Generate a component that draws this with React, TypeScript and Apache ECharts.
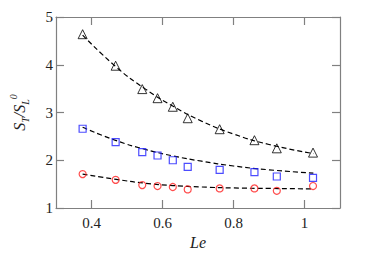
import React, { useEffect, useRef } from "react";
import * as echarts from "echarts";

const leTri = [0.375, 0.468, 0.543, 0.586, 0.629, 0.671, 0.761, 0.859, 0.922, 1.024];
const triVals = [4.64, 3.98, 3.49, 3.3, 3.12, 2.88, 2.65, 2.42, 2.25, 2.16];
const sqVals = [2.66, 2.38, 2.17, 2.1, 2.0, 1.86, 1.8, 1.75, 1.66, 1.63];
const circVals = [1.71, 1.59, 1.48, 1.46, 1.44, 1.39, 1.41, 1.41, 1.36, 1.46];

const fitX = [0.375, 0.47, 0.55, 0.63, 0.71, 0.8, 0.9, 1.025];
const fitTri = [4.62, 3.95, 3.5, 3.13, 2.82, 2.55, 2.33, 2.14];
const fitSq = [2.69, 2.41, 2.23, 2.09, 1.98, 1.88, 1.8, 1.73];
const fitCirc = [1.71, 1.6, 1.52, 1.47, 1.44, 1.42, 1.41, 1.4];

const xTicks = [0.4, 0.6, 0.8, 1];

const zip = (xs: number[], ys: number[]) => xs.map((x, i) => [x, ys[i]]);

export default function App() {
  const ref = useRef<HTMLDivElement>(null);
  useEffect(() => {
    if (!ref.current) return;
    const chart = echarts.init(ref.current, undefined, { renderer: "svg" });
    const font = "Liberation Serif";
    const axisLine = { show: true, lineStyle: { color: "#808080", width: 1.2 } };
    const tickStyle = { lineStyle: { color: "#808080", width: 1.2 } };
    const dash = { type: [5, 3] as any, color: "#000", width: 1.2 };
    chart.setOption({
      animation: false,
      textStyle: { fontFamily: font },
      grid: { left: 53, top: 17, right: 51, bottom: 53 },
      xAxis: [
        {
          type: "value",
          min: 0.3,
          max: 1.1,
          position: "bottom",
          axisLine,
          splitLine: { show: false },
          axisTick: { show: true, inside: true, length: 8, customValues: xTicks, ...tickStyle },
          axisLabel: { customValues: xTicks, fontFamily: font, fontSize: 15, color: "#222", margin: 7 },
          name: "Le",
          nameLocation: "middle",
          nameGap: 25,
          nameTextStyle: { fontFamily: font, fontStyle: "italic", fontSize: 16, color: "#222" },
        },
        {
          type: "value",
          min: 0.3,
          max: 1.1,
          position: "top",
          axisLine,
          splitLine: { show: false },
          axisTick: { show: true, inside: true, length: 8, customValues: xTicks, ...tickStyle },
          axisLabel: { show: false },
        },
      ],
      yAxis: [
        {
          type: "value",
          min: 1,
          max: 5,
          interval: 1,
          position: "left",
          axisLine,
          splitLine: { show: false },
          axisTick: { show: true, inside: true, length: 8, ...tickStyle },
          axisLabel: { fontFamily: font, fontSize: 15, color: "#222", margin: 3 },
          name: "{i|S}{sub|T}{i|/S}{sub|L}{sup|0}",
          nameLocation: "middle",
          nameGap: 27,
          nameTextStyle: {
            color: "#222",
            fontFamily: font,
            rich: {
              i: { fontFamily: font, fontStyle: "italic", fontSize: 16, color: "#222", verticalAlign: "middle", lineHeight: 20 },
              sub: { fontFamily: font, fontStyle: "italic", fontSize: 10, color: "#222", verticalAlign: "bottom", lineHeight: 20, padding: [0, 0, -1, 0] },
              sup: { fontFamily: font, fontStyle: "italic", fontSize: 10, color: "#222", verticalAlign: "top", lineHeight: 20, padding: [-1, 0, 0, 0] },
            },
          },
        },
        {
          type: "value",
          min: 1,
          max: 5,
          interval: 1,
          position: "right",
          axisLine,
          splitLine: { show: false },
          axisTick: { show: true, inside: true, length: 8, ...tickStyle },
          axisLabel: { show: false },
        },
      ],
      series: [
        { type: "line", data: zip(fitX, fitTri), smooth: true, showSymbol: false, lineStyle: dash, z: 1 },
        { type: "line", data: zip(fitX, fitSq), smooth: true, showSymbol: false, lineStyle: dash, z: 1 },
        { type: "line", data: zip(fitX, fitCirc), smooth: true, showSymbol: false, lineStyle: dash, z: 1 },
        {
          type: "scatter",
          data: zip(leTri, triVals),
          symbol: "triangle",
          symbolSize: 9,
          itemStyle: { color: "rgba(0,0,0,0)", borderColor: "#000", borderWidth: 1 },
          z: 3,
        },
        {
          type: "scatter",
          data: zip(leTri, sqVals),
          symbol: "rect",
          symbolSize: 7,
          itemStyle: { color: "rgba(0,0,0,0)", borderColor: "#1f1fff", borderWidth: 1.2 },
          z: 3,
        },
        {
          type: "scatter",
          data: zip(leTri, circVals),
          symbol: "circle",
          symbolSize: 7,
          itemStyle: { color: "rgba(0,0,0,0)", borderColor: "#ff2020", borderWidth: 1.2 },
          z: 3,
        },
      ],
    });
    return () => chart.dispose();
  }, []);
  return <div ref={ref} style={{ width: 391, height: 261, position: "absolute", left: 0, top: 0 }} />;
}
